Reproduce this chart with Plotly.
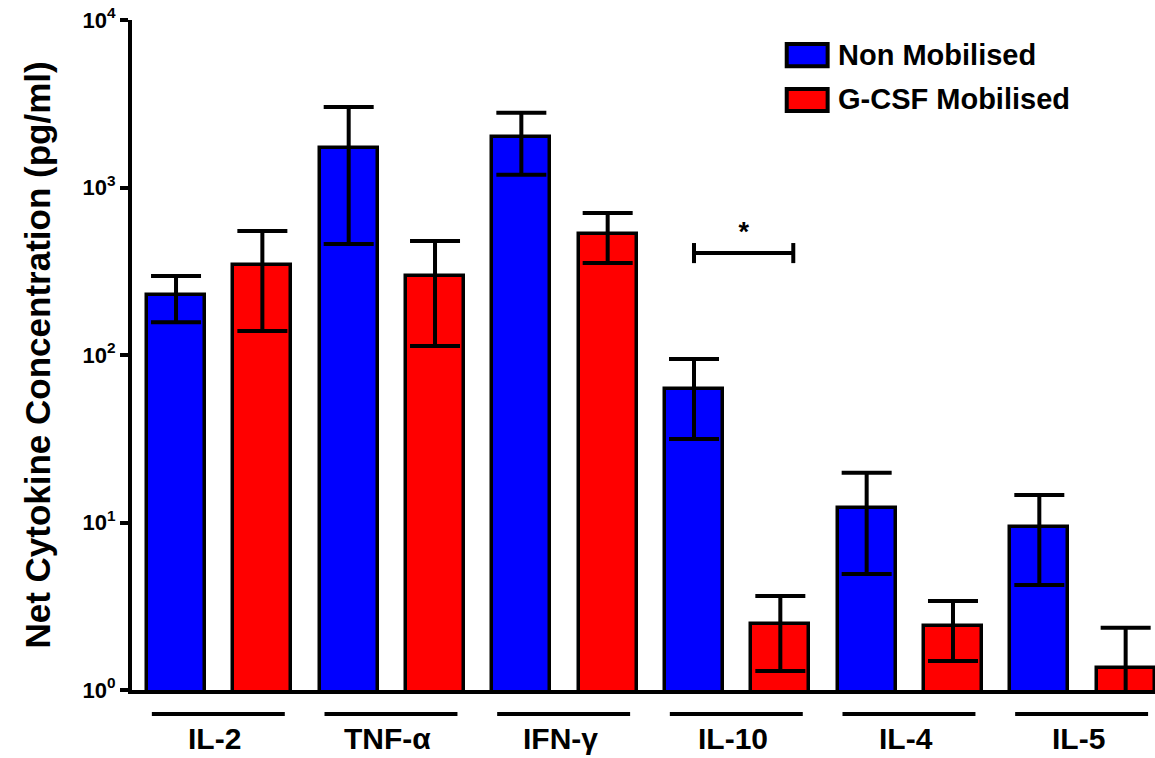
import plotly.graph_objects as go

categories = ["IL-2", "TNF-α", "IFN-γ", "IL-10", "IL-4", "IL-5"]
series_names = ["Non Mobilised", "G-CSF Mobilised"]
series_colors = ["#0000FF", "#FF0000"]

non_mob = [228, 1720, 2000, 62.7, 12.2, 9.4]
non_mob_hi = [296, 3025, 2790, 94.7, 19.8, 14.6]
non_mob_lo = [157, 460, 1190, 31.5, 4.93, 4.24]

gcsf = [345, 296, 528, 2.48, 2.41, 1.35]
gcsf_hi = [550, 480, 704, 3.64, 3.40, 2.35]
gcsf_lo = [139, 113, 354, 1.30, 1.49, 0.91]

y_ticks = [1, 10, 100, 1000, 10000]
y_ticktext = ["10<sup>0</sup>", "10<sup>1</sup>", "10<sup>2</sup>", "10<sup>3</sup>", "10<sup>4</sup>"]

sig_pair = (3, "*")   # IL-10 group
sig_level = 406

FONT = "Arial, Liberation Sans, sans-serif"

fig = go.Figure()
series = [(non_mob, non_mob_hi, non_mob_lo), (gcsf, gcsf_hi, gcsf_lo)]
for s, (vals, hi, lo) in enumerate(series):
    xs = [2 * i + s for i in range(len(categories))]
    fig.add_trace(go.Bar(
        x=xs, y=vals, name=series_names[s], width=0.67,
        marker=dict(color=series_colors[s], line=dict(color="black", width=3.5)),
        error_y=dict(type="data", symmetric=False,
                     array=[h - v for h, v in zip(hi, vals)],
                     arrayminus=[v - l for v, l in zip(vals, lo)],
                     color="black", thickness=4, width=25),
        cliponaxis=False, showlegend=False,
    ))

# significance bracket
g = sig_pair[0]
bx0, bx1 = 2 * g, 2 * g + 1.15
cap_lo, cap_hi = sig_level / 1.148, sig_level * 1.148
fig.add_trace(go.Scatter(
    x=[bx0, bx0, None, bx0, bx1, None, bx1, bx1],
    y=[cap_lo, cap_hi, None, sig_level, sig_level, None, cap_lo, cap_hi],
    mode="lines", line=dict(color="black", width=4), showlegend=False, hoverinfo="skip",
))
fig.add_trace(go.Scatter(
    x=[(bx0 + bx1) / 2], y=[sig_level * 1.3], mode="text", text=["<b>%s</b>" % sig_pair[1]],
    textfont=dict(family=FONT, size=27, color="black"), showlegend=False, hoverinfo="skip",
))

shapes = []
annotations = []
for i, cat in enumerate(categories):
    shapes.append(dict(type="line", xref="x", yref="paper",
                       x0=2 * i - 0.28, x1=2 * i + 1.26, y0=-0.036, y1=-0.036,
                       line=dict(color="black", width=4)))
    annotations.append(dict(text="<b>%s</b>" % cat, xref="x", yref="paper",
                            x=2 * i + 0.45, y=-0.072, showarrow=False,
                            font=dict(family=FONT, size=30, color="black"),
                            xanchor="center", yanchor="middle"))

# manual legend
leg_rows = [(0.964, 0.931, 0.948), (0.897, 0.864, 0.882)]
for s, (ya, yb, yc) in enumerate(leg_rows):
    shapes.append(dict(type="rect", xref="paper", yref="paper",
                       x0=0.640, x1=0.680, y0=yb, y1=ya,
                       fillcolor=series_colors[s], line=dict(color="black", width=4)))
    annotations.append(dict(text="<b>%s</b>" % series_names[s], xref="paper", yref="paper",
                            x=0.688, y=yc, showarrow=False, xanchor="left", yanchor="middle",
                            font=dict(family=FONT, size=29, color="black")))

fig.update_layout(
    width=1155, height=758,
    margin=dict(l=132, r=0, t=20, b=68),
    plot_bgcolor="white", paper_bgcolor="white",
    bargap=0, shapes=shapes, annotations=annotations,
    font=dict(family=FONT, color="black"),
)
fig.update_xaxes(range=[-0.51, 11.34], showticklabels=False, ticks="",
                 showgrid=False, zeroline=False, showline=True,
                 linecolor="black", linewidth=4)
fig.update_yaxes(type="log", range=[0, 4], tickvals=y_ticks,
                 ticktext=["<b>%s</b>" % t for t in y_ticktext],
                 ticks="outside", ticklen=8, tickwidth=4, tickcolor="black",
                 tickfont=dict(family=FONT, size=22, color="black"),
                 showgrid=False, zeroline=False, showline=True,
                 linecolor="black", linewidth=4,
                 title=dict(text="<b>Net Cytokine Concentration (pg/ml)</b>",
                            font=dict(family=FONT, size=35, color="black"), standoff=22))

fig.write_html("out.html")
